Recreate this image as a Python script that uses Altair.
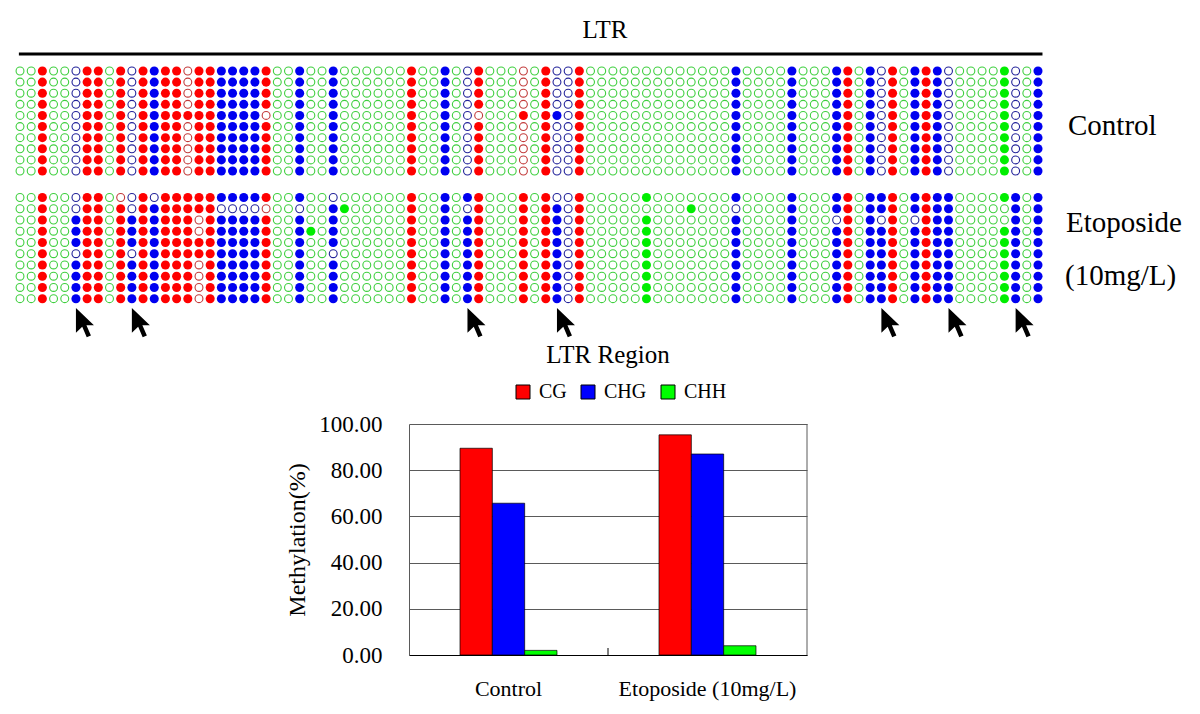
import altair as alt
import pandas as pd

SERIF = "Liberation Serif"

# ---------------- data: methylation dot plot (LTR) ----------------
CONTEXTS = ["CG", "CHG", "CHH"]
CODE = {"C": "CG", "G": "CHG", "H": "CHH"}
# sequence context of each of the 92 cytosine sites (left to right)
site_context_code = (
    "HHCHHGCCHC" "GCGCCCCCGG" "GGCHHGHHGH" "HHHHHCHHGH" "GCHHHCHCGG"
    "CHHHHHHHHH" "HHHHGHHHHG" "HHHGCHGGCH" "GCGGHHHHHG" "HG"
)
# per site: "F" all 10 clones methylated, "O" none, else clone-by-clone (1 = methylated)
control_pattern = [
    "O", "O", "F", "O", "O", "O", "F", "F", "O", "F",
    "O", "F", "F", "F", "F", "0000100000", "F", "F", "F", "F",
    "F", "F", "1111011111", "O", "O", "F", "O", "O", "F", "O",
    "O", "O", "O", "O", "O", "F", "O", "O", "F", "O",
    "O", "1111011111", "O", "O", "O", "0000100000", "O", "F", "0000100000", "O",
    "F", "O", "O", "O", "O", "O", "O", "O", "O", "O",
    "O", "O", "O", "O", "F", "O", "O", "O", "O", "F",
    "O", "O", "O", "F", "F", "O", "F", "O", "F", "O",
    "F", "F", "F", "O", "O", "O", "O", "O", "F", "O",
    "O", "F",
]
etoposide_pattern = [
    "O", "O", "F", "O", "O", "0011101111", "F", "F", "O", "0111111111",
    "0011101111", "F", "0111111111", "F", "F", "F", "1100110000", "F", "1011111111", "1011111111",
    "1011111111", "1011111111", "1011111111", "O", "O", "1011111111", "0001000000", "O", "0111101111", "0100000000",
    "O", "O", "O", "O", "O", "F", "O", "O", "F", "O",
    "1011111111", "F", "O", "O", "O", "F", "O", "F", "0111111111", "O",
    "F", "O", "O", "O", "O", "O", "1011111111", "O", "O", "O",
    "0100000000", "O", "O", "O", "1011111111", "O", "O", "O", "O", "F",
    "O", "O", "O", "1101111111", "F", "O", "F", "1101111111", "F", "O",
    "1101111111", "F", "F", "F", "O", "O", "O", "O", "1001111111", "F",
    "O", "F",
]
arrow_sites = [5, 10, 40, 48, 77, 83, 89]

# ---------------- data: bar chart ----------------
samples = ["Control", "Etoposide (10mg/L)"]
cg_values = [89.5, 95.3]
chg_values = [65.7, 87.0]
chh_values = [2.0, 4.0]

# ---------------- build tables ----------------
recs = []
for sample, pats in (("Control", control_pattern), ("Etoposide", etoposide_pattern)):
    for i, p in enumerate(pats):
        s = "1" * 10 if p == "F" else ("0" * 10 if p == "O" else p)
        for r, ch in enumerate(s):
            recs.append({"sample": sample, "row": r, "col": i,
                         "ctx": CODE[site_context_code[i]], "meth": int(ch)})
dots = pd.DataFrame(recs)

bar_recs = []
for j, smp in enumerate(samples):
    for ctx, vals in zip(CONTEXTS, (cg_values, chg_values, chh_values)):
        bar_recs.append({"sample": smp, "ctx": ctx, "value": vals[j]})
bars_df = pd.DataFrame(bar_recs)

# ---------------- dot plot ----------------
xcol = alt.X("col:Q", scale=alt.Scale(domain=[0, 91], range=[12, 1030], zero=False, nice=False), axis=None)
# fill / stroke scales use a different domain order so they are not merged with the bar legend
fill_scale = alt.Scale(domain=["CHH", "CHG", "CG"], range=["#00ee00", "#0000f0", "#ff0000"])
stroke_scale = alt.Scale(domain=["CHG", "CHH", "CG"], range=["#23239a", "#3fcf3f", "#c23a3a"])


def panel(sample, y_range):
    yrow = alt.Y("row:Q", scale=alt.Scale(domain=[0, 9], range=y_range, zero=False, nice=False), axis=None)
    base = alt.Chart(dots).transform_filter(alt.datum.sample == sample)
    open_d = base.transform_filter("datum.meth == 0").mark_point(
        shape="circle", filled=False, size=62, strokeWidth=1.1, opacity=1
    ).encode(x=xcol, y=yrow, stroke=alt.Stroke("ctx:N", scale=stroke_scale, legend=None))
    filled_d = base.transform_filter("datum.meth == 1").mark_circle(size=82, opacity=1).encode(
        x=xcol, y=yrow, fill=alt.Fill("ctx:N", scale=fill_scale, legend=None)
    )
    return alt.layer(open_d, filled_d)


ctrl_panel = panel("Control", [63, 163])
eto_panel = panel("Etoposide", [189.5, 290.7])

ltr_line = alt.Chart(pd.DataFrame({"a": [0]})).mark_rule(color="black", strokeWidth=3).encode(
    x=alt.XDatum(-0.1, axis=None), x2=alt.X2Datum(91.4), y=alt.value(46)
)
ARROW = "M0,0L0,1.65L0.42,1.25L0.72,1.95L1.0,1.83L0.7,1.15L1.2,1.15Z"
arrows = alt.Chart(pd.DataFrame({"col": arrow_sites})).mark_point(
    shape=ARROW, filled=True, fill="black", size=900, strokeWidth=0, opacity=1
).encode(x=alt.X("col:Q", axis=None), y=alt.value(300))

dot_group = alt.layer(ctrl_panel, eto_panel, ltr_line, arrows).resolve_scale(y="independent")

# ---------------- bar chart ----------------
GRID = "#5a5a5a"
bars = alt.Chart(bars_df).mark_bar(stroke="black", strokeWidth=0.7).encode(
    x=alt.X("sample:N", sort=samples,
            scale=alt.Scale(domain=samples, range=[401, 799], paddingInner=0.5126, paddingOuter=0.2563),
            axis=alt.Axis(title=None, orient="bottom", offset=-51, labelAngle=0, labelFont=SERIF,
                          labelFontSize=22, labelColor="black", ticks=False, tickSize=0, labelPadding=40,
                          labelBaseline="alphabetic", domainColor="black", domainWidth=1, grid=False)),
    xOffset=alt.XOffset("ctx:N", scale=alt.Scale(domain=CONTEXTS)),
    y=alt.Y("value:Q", scale=alt.Scale(domain=[0, 100], range=[647, 416], nice=False),
            axis=alt.Axis(title="Methylation(%)", orient="left", offset=-401,
                          values=[0, 20, 40, 60, 80, 100], format=".2f",
                          labelFont=SERIF, labelFontSize=23, labelColor="black", labelPadding=27,
                          ticks=False, tickSize=0, grid=True, gridColor=GRID, gridWidth=1,
                          domainColor=GRID, domainWidth=1,
                          titleFont=SERIF, titleFontSize=24, titleFontWeight="normal",
                          titleColor="black", titlePadding=9)),
    color=alt.Color("ctx:N", scale=alt.Scale(domain=CONTEXTS, range=["#ff0000", "#0000ff", "#00ff00"]),
                    legend=alt.Legend(orient="none", legendX=505, legendY=374, direction="horizontal",
                                      title=None, symbolType="square", symbolSize=196,
                                      symbolStrokeColor="black", symbolStrokeWidth=1, symbolOpacity=1,
                                      labelFont=SERIF, labelFontSize=20, labelColor="black",
                                      labelOffset=6, columnPadding=11)),
)
right_border = alt.Chart(pd.DataFrame({"a": [0]})).mark_rule(color=GRID, strokeWidth=1).encode(
    x=alt.value(799), y=alt.value(416), y2=alt.value(647)
)
mid_tick = alt.Chart(pd.DataFrame({"a": [0]})).mark_rule(color="black", strokeWidth=1).encode(
    x=alt.value(600), y=alt.value(640), y2=alt.value(647)
)
bar_group = alt.layer(bars, right_border, mid_tick)

# ---------------- text annotations ----------------
def label(txt, x, y, size, align="left"):
    return alt.Chart(pd.DataFrame({"t": [txt]})).mark_text(
        font=SERIF, fontSize=size, color="black", align=align, baseline="alphabetic"
    ).encode(text="t:N", x=alt.value(x), y=alt.value(y))

ltr_text = label("LTR", 597, 30, 25, "center")
ctrl_text = label("Control", 1060, 127, 29)
eto_text1 = label("Etoposide", 1058, 224, 29)
eto_text2 = label("(10mg/L)", 1057, 277, 29)
region_title = label("LTR Region", 600, 355, 25, "center")

chart = alt.layer(
    dot_group, bar_group, ltr_text, ctrl_text, eto_text1, eto_text2, region_title
).resolve_scale(
    x="independent", y="independent"
).properties(
    width=1184, height=698, autosize=alt.AutoSizeParams(type="none"), padding=0
).configure_view(strokeWidth=0)

chart.save("out.html", embed_options={"renderer": "svg", "actions": False})
